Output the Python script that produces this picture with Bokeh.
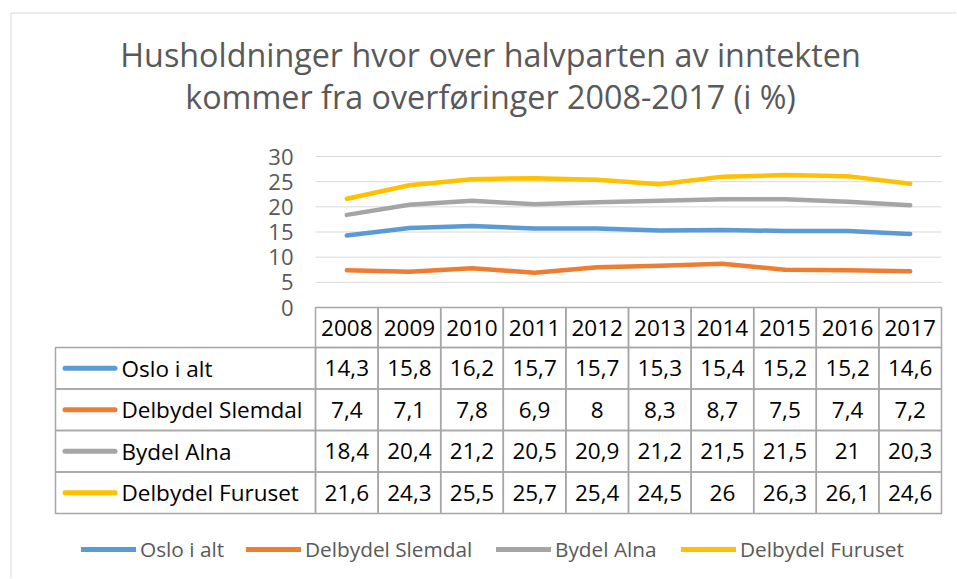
from bokeh.plotting import figure
from bokeh.models import Range1d, Legend, LegendItem
from bokeh.core.properties import value
from bokeh.embed import file_html
from bokeh.resources import INLINE

# ---- data ----
years = ["2008", "2009", "2010", "2011", "2012", "2013", "2014", "2015", "2016", "2017"]
oslo = [14.3, 15.8, 16.2, 15.7, 15.7, 15.3, 15.4, 15.2, 15.2, 14.6]
slemdal = [7.4, 7.1, 7.8, 6.9, 8, 8.3, 8.7, 7.5, 7.4, 7.2]
alna = [18.4, 20.4, 21.2, 20.5, 20.9, 21.2, 21.5, 21.5, 21, 20.3]
furuset = [21.6, 24.3, 25.5, 25.7, 25.4, 24.5, 26, 26.3, 26.1, 24.6]
series_names = ["Oslo i alt", "Delbydel Slemdal", "Bydel Alna", "Delbydel Furuset"]
series_values = [oslo, slemdal, alna, furuset]
colors = ["#5B9BD5", "#ED7D31", "#A5A5A5", "#FFC000"]
y_ticks = [0, 5, 10, 15, 20, 25, 30]
title_lines = ["Husholdninger hvor over halvparten av inntekten",
               "kommer fra overføringer 2008-2017 (i %)"]

FONT = value("Open Sans")
GRID = "#D9D9D9"
BORDER = "#A6A6A6"
TXT = "#595959"


def fmt(v):
    return f"{v:g}".replace(".", ",")


# layout constants (pixels -> units)
PX = 151 / 30.0            # pixels per value unit (vertical)
CW = 62.6                  # pixels per year column (horizontal)
L = 260 / CW               # width of the label column, in year-columns
HDR = 40 / PX              # header row height
ROW = 41.5 / PX            # body row height
X0 = -L - 55 / CW
X1 = 10 + 15 / CW
Y_TOP = 30 + 156 / PX
Y_BOT = -271 / PX

p = figure(width=956, height=578, x_range=Range1d(X0, X1),
           y_range=Range1d(Y_BOT, Y_TOP), output_backend="svg",
           toolbar_location=None, x_axis_location=None, y_axis_location=None,
           title=None, min_border=0, outline_line_color=None)
p.grid.visible = False
p.background_fill_color = None
p.border_fill_color = "white"

n = len(years)
xc = [i + 0.5 for i in range(n)]

# chart-area border (light grey, top and left)
bx = X0 + 10.5 / CW
by = Y_TOP - 12.5 / PX
p.segment(x0=[bx, bx], y0=[by, by], x1=[bx, X1 + 1], y1=[Y_BOT - 1, by],
          line_color=GRID, line_width=1)

# title
p.text(x=[2.796, 2.796], y=[30 + 103 / PX, 30 + 61 / PX], text=title_lines,
       text_align="center", text_baseline="alphabetic", text_font=FONT,
       text_font_size="32.3px", text_color=TXT)

# grid lines + y tick labels
p.segment(x0=[0] * len(y_ticks), x1=[n] * len(y_ticks), y0=y_ticks, y1=y_ticks,
          line_color=GRID, line_width=1)
p.text(x=[0] * len(y_ticks), y=y_ticks, text=[str(t) for t in y_ticks],
       x_offset=-22, text_align="right", text_baseline="middle",
       text_font=FONT, text_font_size="22px", text_color=TXT)

# series lines
for vals, c in zip(series_values, colors):
    p.line(x=xc, y=vals, line_width=4.5, line_color=c,
           line_join="round", line_cap="round")

# header row
p.rect(x=xc, y=[-HDR / 2] * n, width=1, height=HDR,
       fill_color=None, line_color=BORDER, line_width=1.5)
p.text(x=xc, y=[-HDR / 2] * n, text=years, text_align="center",
       text_baseline="middle", text_font=FONT, text_font_size="22.5px",
       text_color="#000000")

# body rows
leg_x = [81, 246, 496, 681]
for r, (name, vals, c) in enumerate(zip(series_names, series_values, colors)):
    yc = -HDR - ROW * (r + 0.5)
    p.rect(x=xc, y=[yc] * n, width=1, height=ROW, fill_color=None,
           line_color=BORDER, line_width=1.5)
    p.rect(x=[-L / 2], y=[yc], width=L, height=ROW, fill_color=None,
           line_color=BORDER, line_width=1.5)
    p.text(x=xc, y=[yc] * n, text=[fmt(v) for v in vals],
           text_align="center", text_baseline="middle", text_font=FONT,
           text_font_size="22.5px", text_color="#000000")
    seg = p.segment(x0=[-L + 0.152], y0=[yc], x1=[-L + 0.95], y1=[yc],
                    line_color=c, line_width=5, line_cap="round")
    p.text(x=[-L + 1.054], y=[yc], text=[name], text_align="left",
           text_baseline="middle", text_font=FONT, text_font_size="22.5px",
           text_color="#000000")
    leg = Legend(items=[LegendItem(label=name, renderers=[seg])],
                 orientation="horizontal", location=(leg_x[r], 15),
                 glyph_width=55, glyph_height=20, label_standoff=4,
                 padding=0, margin=0, border_line_color=None,
                 background_fill_alpha=0, label_text_font="Open Sans",
                 label_text_font_size="20.8px", label_text_color=TXT,
                 label_text_baseline="middle")
    p.add_layout(leg)

open("out.html", "w").write(file_html(p, INLINE))
